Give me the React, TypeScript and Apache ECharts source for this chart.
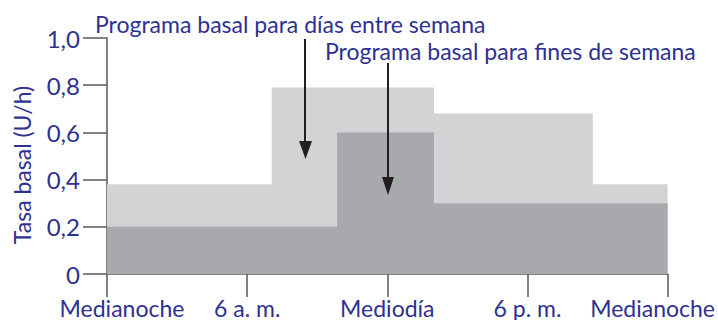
import React, { useEffect, useRef } from "react";
import * as echarts from "echarts";

const hourTicks = [0, 6, 12, 18, 24];
const tickLabels = ["Medianoche", "6 a. m.", "Mediodía", "6 p. m.", "Medianoche"];
// weekday basal program: [hour, U/h] held until next point
const weekdayHours = [0, 7.05, 14, 20.8, 24];
const weekdayRates = [0.38, 0.79, 0.68, 0.38, 0.38];
// weekend basal program
const weekendHours = [0, 9.85, 14, 24];
const weekendRates = [0.2, 0.6, 0.3, 0.3];

const NAVY = "#2e3192";
const FONT = "Lato";

export default function App() {
  const ref = useRef<HTMLDivElement>(null);
  useEffect(() => {
    if (!ref.current) return;
    const chart = echarts.init(ref.current, null, { renderer: "svg" });
    const axisColor = "#58595b";
    chart.setOption({
      animation: false,
      grid: { left: 107, right: 46, top: 38, bottom: 46 },
      xAxis: {
        type: "value",
        min: 0,
        max: 24,
        interval: 6,
        axisLine: { lineStyle: { color: axisColor, width: 1.5 } },
        axisTick: { show: true, length: 23, lineStyle: { color: axisColor, width: 1.5 } },
        splitLine: { show: false },
        axisLabel: {
          margin: 22,
          color: NAVY,
          fontFamily: FONT,
          fontSize: 23,
          formatter: (v: number) => {
            const i = hourTicks.indexOf(v);
            const t = i >= 0 ? tickLabels[i] : "";
            if (i === 0) return "{first|" + t + "}";
            if (i === hourTicks.length - 1) return "{last|" + t + "}";
            return t;
          },
          rich: {
            first: { color: NAVY, fontFamily: FONT, fontSize: 23, padding: [0, 0, 0, 30] },
            last: { color: NAVY, fontFamily: FONT, fontSize: 23, padding: [0, 30, 0, 0] },
          },
        },
      },
      yAxis: {
        type: "value",
        min: 0,
        max: 1,
        interval: 0.2,
        name: "Tasa basal (U/h)",
        nameLocation: "middle",
        nameRotate: 90,
        nameGap: 74,
        nameTextStyle: { color: NAVY, fontFamily: FONT, fontSize: 23, padding: [0, 18, 0, 0] },
        axisLine: { show: true, lineStyle: { color: axisColor, width: 1.5 } },
        axisTick: { show: true, length: 24, lineStyle: { color: axisColor, width: 1.5 } },
        splitLine: { show: false },
        axisLabel: {
          margin: 27,
          color: NAVY,
          fontFamily: FONT,
          fontSize: 24,
          formatter: (v: number) => (v === 0 ? "0" : v.toFixed(1).replace(".", ",")),
        },
      },
      series: [
        {
          type: "line",
          step: "end",
          symbol: "none",
          data: weekdayHours.map((h, i) => [h, weekdayRates[i]]),
          lineStyle: { width: 0, opacity: 0 },
          areaStyle: { color: "#d1d3d4", opacity: 1 },
          z: 1,
        },
        {
          type: "line",
          step: "end",
          symbol: "none",
          data: weekendHours.map((h, i) => [h, weekendRates[i]]),
          lineStyle: { width: 0, opacity: 0 },
          areaStyle: { color: "#a7a9ac", opacity: 1 },
          z: 2,
        },
      ],
      graphic: [
        {
          type: "text",
          left: 95,
          top: 12,
          style: { text: "Programa basal para días entre semana", fill: NAVY, font: `23px ${FONT}` },
          z: 10,
        },
        {
          type: "text",
          left: 325,
          top: 39,
          style: { text: "Programa basal para fines de semana", fill: NAVY, font: `23px ${FONT}` },
          z: 10,
        },
        { type: "line", shape: { x1: 305, y1: 39, x2: 305, y2: 146 }, style: { stroke: "#231f20", lineWidth: 2 }, z: 10 },
        { type: "polygon", shape: { points: [[299, 141], [312, 141], [305.5, 159]] }, style: { fill: "#231f20" }, z: 10 },
        { type: "line", shape: { x1: 388, y1: 63, x2: 388, y2: 182 }, style: { stroke: "#231f20", lineWidth: 2 }, z: 10 },
        { type: "polygon", shape: { points: [[382, 177], [394, 177], [388, 195]] }, style: { fill: "#231f20" }, z: 10 },
      ],
    });
    return () => chart.dispose();
  }, []);
  return <div ref={ref} style={{ width: 718, height: 320, position: "absolute", left: 0, top: 0 }} />;
}
